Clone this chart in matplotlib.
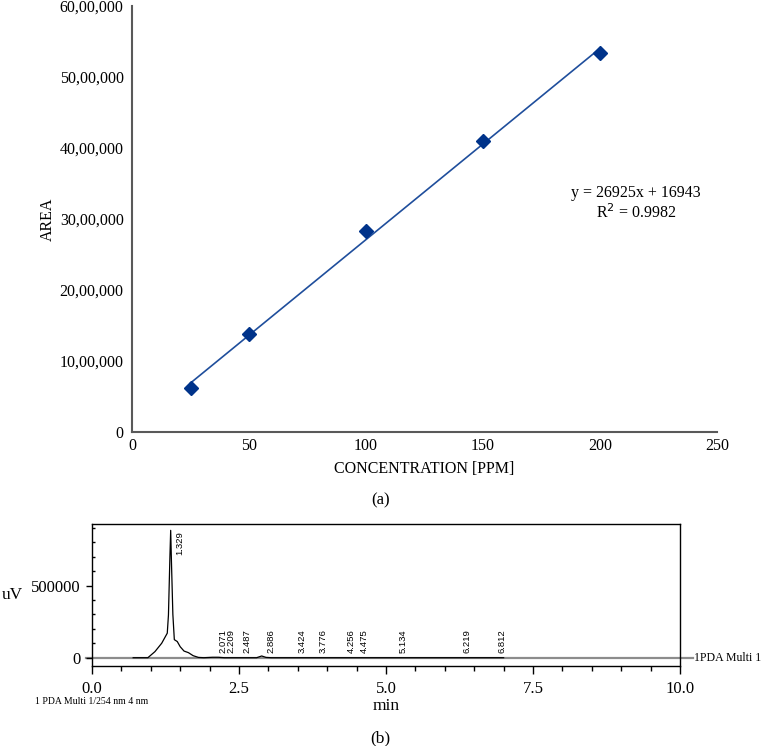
import matplotlib
matplotlib.use("Agg")
import matplotlib.pyplot as plt
import numpy as np

plt.rcParams["font.family"] = ["Liberation Serif", "DejaVu Serif"]

# calibration data
conc_ppm = [25, 50, 100, 150, 200]
area = [620000, 1380000, 2830000, 4100000, 5335000]
slope = 26925
intercept = 16943
r_squared = 0.9982
area_ticks = [0, 1000000, 2000000, 3000000, 4000000, 5000000, 6000000]
area_labels = ["0", "10,00,000", "20,00,000", "30,00,000", "40,00,000", "50,00,000", "60,00,000"]
conc_ticks = [0, 50, 100, 150, 200, 250]

# chromatogram trace (min, uV)
trace_t = [0.70, 0.95, 1.07, 1.185, 1.28, 1.30, 1.325, 1.338, 1.352, 1.375, 1.40, 1.45,
           1.50, 1.565, 1.64, 1.72, 1.81, 1.90, 2.05, 2.15, 2.25, 2.80, 2.886, 2.96, 3.05, 7.00]
trace_uv = [0, 0, 42000, 100000, 170000, 296000, 700000, 882000, 650000, 300000, 125000, 112000,
            76000, 46000, 35000, 14000, 2000, 0, 3000, 3000, 0, 0, 12000, 2000, 0, 0]
peak_times = [1.329, 2.071, 2.209, 2.487, 2.886, 3.424, 3.776, 4.256, 4.475, 5.134, 6.219, 6.812]
time_ticks = [0.0, 2.5, 5.0, 7.5, 10.0]

fig = plt.figure(figsize=(7.61, 7.46), dpi=100)

# (a) calibration curve
ax1 = fig.add_axes([0.1735, 0.4209, 0.7685, 0.5711])
fit_x = np.array([conc_ppm[0], conc_ppm[-1]])
ax1.plot(fit_x, slope * fit_x + intercept, color="#1f4e9c", lw=1.2)
ax1.plot(conc_ppm, area, "D", color="#00338a", ms=6.8, ls="none")
ax1.set_xlim(0, 250)
ax1.set_ylim(0, 6000000)
ax1.set_xticks(conc_ticks)
ax1.set_yticks(area_ticks)
ax1.set_yticklabels(area_labels)
ax1.tick_params(length=0, labelsize=11.5, colors="black")
ax1.tick_params(axis="x", pad=4)
ax1.tick_params(axis="y", pad=6)
for side in ["top", "right"]:
    ax1.spines[side].set_visible(False)
for side in ["left", "bottom"]:
    ax1.spines[side].set_color("#595959")
    ax1.spines[side].set_linewidth(1.5)
ax1.set_xlabel("CONCENTRATION [PPM]", fontsize=11.5, labelpad=5.5)
ax1.set_ylabel("AREA", fontsize=11.5, labelpad=3)
ax1.text(215.4, 3366000, f"y = {slope}x + {intercept}", fontsize=11.5, ha="center", va="center")
ax1.text(215.4, 3085000, f"R$^2$ = {r_squared}", fontsize=11.5, ha="center", va="center")
fig.text(0.5, 1 - 500 / 746, "(a)", fontsize=12, ha="center", va="center")

# (b) chromatogram
ax2 = fig.add_axes([0.1209, 0.1079, 0.7727, 0.1897])
ax2.set_xlim(0, 10)
ax2.set_ylim(-54000, 926000)
ax2.plot([-0.1, 10.22], [0, 0], color="#8c8c8c", lw=1.6, clip_on=False, zorder=1)
ax2.plot(trace_t, trace_uv, color="black", lw=0.9, zorder=2)
for i, t in enumerate(peak_times):
    if i == 0:
        ax2.annotate(f"{t:.3f}", xy=(t, 878000), xytext=(7, 0), textcoords="offset points",
                     rotation=90, ha="center", va="top", fontsize=6.8, family="Liberation Sans")
    else:
        ax2.annotate(f"{t:.3f}", xy=(t, 30000), xytext=(6.5, 0), textcoords="offset points",
                     rotation=90, ha="center", va="bottom", fontsize=6.8, family="Liberation Sans")
ax2.set_xticks(time_ticks)
ax2.set_xticklabels([f"{t:.1f}" for t in time_ticks])
ax2.set_xticks(np.arange(0, 10.01, 0.5), minor=True)
ax2.set_yticks([0, 500000])
ax2.set_yticks(np.arange(100000, 900001, 100000), minor=True)
ax2.tick_params(axis="x", which="major", direction="out", length=6, width=1, labelsize=12, pad=5)
ax2.tick_params(axis="x", which="minor", direction="out", length=3.5, width=1)
ax2.tick_params(axis="y", which="major", direction="out", length=4.5, width=1, labelsize=12, pad=4)
ax2.tick_params(axis="y", which="minor", direction="in", length=2.5, width=1)
for side in ax2.spines:
    ax2.spines[side].set_linewidth(1)
ax2.set_xlabel("min", fontsize=12.5, labelpad=1)
ax2.set_ylabel("uV", fontsize=12.5, rotation=0, ha="center", va="center")
ax2.yaxis.set_label_coords(-0.136, 0.5)
ax2.text(10.24, 0, "1PDA Multi 1", fontsize=8.5, ha="left", va="center", clip_on=False)
fig.text(35 / 761, 1 - 701.7 / 746, "1 PDA Multi 1/254 nm 4 nm", fontsize=7, ha="left", va="center")
fig.text(0.5, 1 - 738 / 746, "(b)", fontsize=12.5, ha="center", va="center")

fig.savefig("out.png", dpi=100)
